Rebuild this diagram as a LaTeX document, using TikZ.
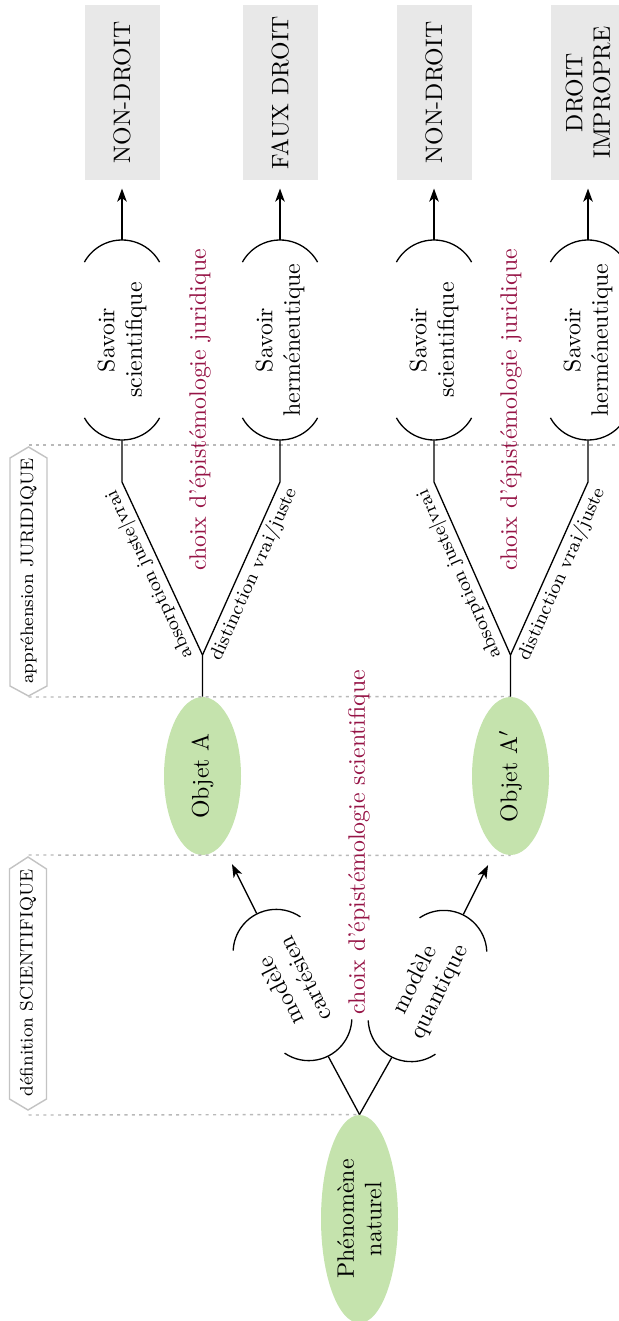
\documentclass[tikz,border=0pt]{standalone}
\usetikzlibrary{arrows.meta,shapes.geometric,calc}
\definecolor{leaf}{RGB}{197,227,173}
\definecolor{boxg}{RGB}{232,232,232}
\definecolor{epi}{RGB}{150,20,70}
\definecolor{hexg}{RGB}{195,195,195}
\definecolor{dashg}{RGB}{185,185,185}
\def\upx{0.42pt}
\tikzset{
  conn/.style={line width=0.55pt, black},
  arr/.style={conn, -{Stealth[length=5.5pt,width=4pt,inset=1.5pt]}},
  guide/.style={dashg, line width=0.6pt, dash pattern=on 1.3pt off 1.8pt},
  hexline/.style={hexg, line width=0.6pt},
  base/.style={font=\fontsize{10}{11.5}\selectfont, align=center, inner sep=0pt},
  outbox/.style={base, fill=boxg, minimum width=175*\upx, minimum height=75*\upx},
  leafnode/.style={base, ellipse, fill=leaf},
  parennode/.style={base, minimum height=75*\upx},
  epitext/.style={base, text=epi},
  lbl/.style={font=\footnotesize, inner sep=1.6pt},
  hexlbl/.style={font=\fontsize{7.6}{9}\selectfont, inner sep=0pt},
  pics/paren/.style={code={
    \draw[conn] ({#1-22.15},-37.6) arc[start angle=-61,end angle=61,radius=43];
    \draw[conn] ({-#1+22.15},37.6) arc[start angle=119,end angle=241,radius=43];
  }},
}
\begin{document}
\begin{tikzpicture}[x=0.42pt,y=0.42pt]
\useasboundingbox (0,0) rectangle (618,-1321);

% guide coordinates and hexagons
\coordinate (h1t) at (28.5,-445);
\coordinate (h1b) at (28.5,-697);
\coordinate (h2t) at (28.5,-855);
\coordinate (h2b) at (28.5,-1115);
\coordinate (rend) at (618,-445);

% ellipses
\node[leafnode, rotate=90, minimum width=158*\upx, minimum height=77*\upx] (oa) at (202.5,-776) {Objet A};
\node[leafnode, rotate=90, minimum width=158*\upx, minimum height=77*\upx] (oap) at (510.5,-776) {Objet A$'$};
\node[leafnode, rotate=90, minimum width=208*\upx, minimum height=77*\upx] (ph) at (359.5,-1219) {Phénomène\\naturel};

% dashed guides
\draw[guide] (h1t) -- (rend);
\draw[guide] (h1b) -- (oap.east);
\draw[guide] (h2t) -- (oap.west);
\draw[guide] (h2b) -- (ph.east);

% hexagon labels
\node[hexlbl, rotate=90] (hj) at (28.5,-571) {appréhension JURIDIQUE};
\draw[hexline] (28.5,-447) -- (47,-458) -- (47,-686) -- (28.5,-696) -- (10,-686) -- (10,-458) -- cycle;
\node[hexlbl, rotate=90] (hs) at (28,-983) {définition SCIENTIFIQUE};
\draw[hexline] (28,-857) -- (46.5,-869) -- (46.5,-1099) -- (28,-1110) -- (9.5,-1099) -- (9.5,-869) -- cycle;

% output boxes
\node[outbox, rotate=90] (o1) at (122,-92.5) {NON-DROIT};
\node[outbox, rotate=90] (o2) at (280,-92.5) {FAUX DROIT};
\node[outbox, rotate=90] (o3) at (434,-92.5) {NON-DROIT};
\node[outbox, rotate=90] (o4) at (588,-92.5) {DROIT\\IMPROPRE};

% savoir nodes
\node[parennode, rotate=90, minimum width=200*\upx] (s1) at (122,-340) {Savoir\\scientifique};
\node[parennode, rotate=90, minimum width=200*\upx] (s2) at (280,-340) {Savoir\\herméneutique};
\node[parennode, rotate=90, minimum width=200*\upx] (s3) at (434,-340) {Savoir\\scientifique};
\node[parennode, rotate=90, minimum width=200*\upx] (s4) at (588,-340) {Savoir\\herméneutique};
\pic[rotate=90] at (s1.center) {paren=100};
\pic[rotate=90] at (s2.center) {paren=100};
\pic[rotate=90] at (s3.center) {paren=100};
\pic[rotate=90] at (s4.center) {paren=100};

\draw[arr, shorten >=3.4pt] (s1.east) -- (o1.west);
\draw[arr, shorten >=3.4pt] (s2.east) -- (o2.west);
\draw[arr, shorten >=3.4pt] (s3.east) -- (o3.west);
\draw[arr, shorten >=3.4pt] (s4.east) -- (o4.west);

% modele nodes
\node[parennode, rotate=116.6, minimum width=159*\upx] (mc) at (292.5,-985) {modèle\\cartésien};
\node[parennode, rotate=63.4, minimum width=159*\upx] (mq) at (427.5,-986) {modèle\\quantique};
\pic[rotate=116.6] at (mc.center) {paren=79.5};
\pic[rotate=63.4] at (mq.center) {paren=79.5};
\coordinate (ta) at ($(mc.center)!1.69!(mc.east)$);
\coordinate (tb) at ($(mq.center)!1.69!(mq.east)$);
\draw[arr] (mc.east) -- (ta);
\draw[arr] (mq.east) -- (tb);
\draw[conn] (ph.east) -- (mc.west);
\draw[conn] (ph.east) -- (mq.west);

% juridical trees
\coordinate (jA) at (202.5,-655);
\coordinate (bA1) at (122,-482);
\coordinate (bA2) at (280,-482);
\coordinate (jB) at (510.5,-655);
\coordinate (bB1) at (434,-482);
\coordinate (bB2) at (588,-482);
\draw[conn] (oa.east) -- (jA) -- node[lbl, sloped, allow upside down, above] {absorption juste|vrai} (bA1) -- (s1.west);
\draw[conn] (jA) -- node[lbl, sloped, allow upside down, below] {distinction vrai/juste} (bA2) -- (s2.west);
\draw[conn] (oap.east) -- (jB) -- node[lbl, sloped, allow upside down, above] {absorption juste|vrai} (bB1) -- (s3.west);
\draw[conn] (jB) -- node[lbl, sloped, allow upside down, below] {distinction vrai/juste} (bB2) -- (s4.west);

% epistemology texts
\node[epitext, rotate=90] (e1) at (200,-410) {choix d’épistémologie juridique};
\node[epitext, rotate=90] (e2) at (511,-410) {choix d’épistémologie juridique};
\node[epitext, rotate=90] (e3) at (359,-842) {choix d’épistémologie scientifique};
\end{tikzpicture}
\end{document}
